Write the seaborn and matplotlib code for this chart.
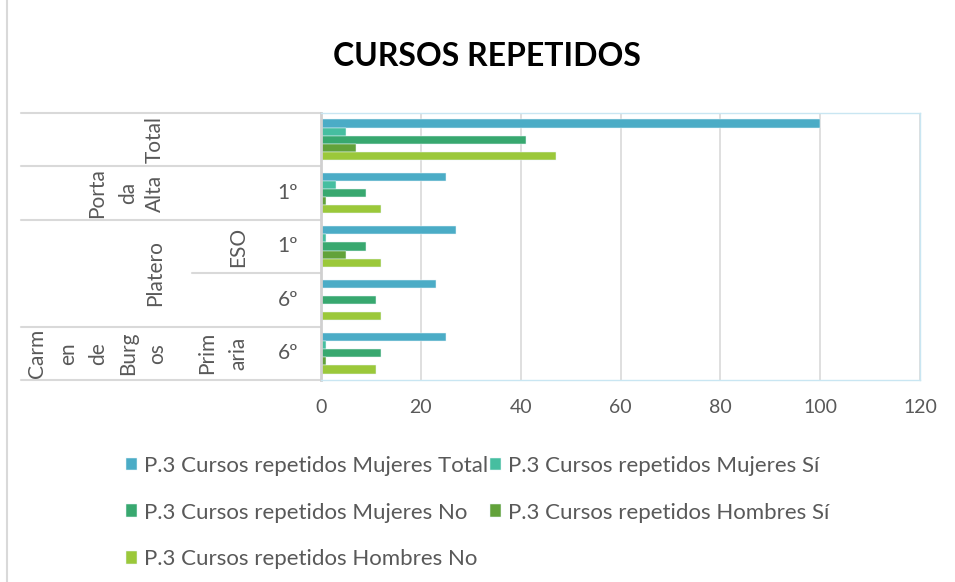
import pandas as pd
import matplotlib.pyplot as plt
import matplotlib.transforms as mtransforms
from matplotlib.lines import Line2D
import seaborn as sns

sns.set_style("white")
plt.rcParams['font.family'] = ['Lato', 'DejaVu Sans']

# Data (rows top to bottom)
categorias = ["Total", "Porta da Alta 1º", "Platero ESO 1º", "Platero 6º", "Carmen de Burgos 6º"]
series = ["P.3 Cursos repetidos Mujeres Total", "P.3 Cursos repetidos Mujeres Sí",
          "P.3 Cursos repetidos Mujeres No", "P.3 Cursos repetidos Hombres Sí",
          "P.3 Cursos repetidos Hombres No"]
mujeres_total = [100, 25, 27, 23, 25]
mujeres_si = [5, 3, 1, 0, 1]
mujeres_no = [41, 9, 9, 11, 12]
hombres_si = [7, 1, 5, 0, 1]
hombres_no = [47, 12, 12, 12, 11]
colores = ["#4BACC6", "#46BEA0", "#38A86F", "#62A23A", "#9BC83A"]

valores = [mujeres_total, mujeres_si, mujeres_no, hombres_si, hombres_no]
rows = []
for s, vals in zip(series, valores):
    for c, v in zip(categorias, vals):
        rows.append({"categoria": c, "serie": s, "valor": v})
df = pd.DataFrame(rows)

W, H = 955, 582
fig = plt.figure(figsize=(W / 100, H / 100), dpi=100)
ax = fig.add_axes([321 / W, 1 - 380 / H, (920 - 321) / W, (380 - 113) / H])

sns.barplot(data=df, x="valor", y="categoria", hue="serie", order=categorias,
            hue_order=series, palette=colores, orient="h", width=0.76,
            saturation=1, linewidth=0.35, edgecolor="#E8F4F8", ax=ax, legend=True)

ax.set_xlim(0, 120)
ax.set_ylim(4.5, -0.5)
ax.set_xticks(range(0, 121, 20))
ax.set_yticks([])
ax.set_xlabel("")
ax.set_ylabel("")
ax.grid(axis="x", color="#D9D9D9", linewidth=1.2)
ax.set_axisbelow(True)
ax.tick_params(axis="x", length=0, pad=14, labelsize=14, labelcolor="#595959")
for side in ["top", "right", "bottom"]:
    ax.spines[side].set_color("#C9E6F2")
    ax.spines[side].set_linewidth(1)
ax.spines["left"].set_color("#D0D0D0")
ax.spines["left"].set_linewidth(2)

# hierarchical category labels on the left
trans = mtransforms.blended_transform_factory(ax.transAxes, ax.transData)

def fx(px):
    return (px - 321) / 599

for y in [-0.5, 0.5, 1.5, 3.5, 4.5]:
    ax.plot([fx(21), 0], [y, y], transform=trans, color="#D9D9D9", lw=1.5, clip_on=False)
ax.plot([fx(192), 0], [2.5, 2.5], transform=trans, color="#D9D9D9", lw=1.5, clip_on=False)

etiquetas = [
    ("Total", 155, 0, 90), ("Porta", 97, 1, 90), ("da", 128, 1, 90), ("Alta", 155, 1, 90),
    ("Platero", 155, 2.5, 90), ("ESO", 238, 2, 90),
    ("1º", 288, 1, 0), ("1º", 288, 2, 0), ("6º", 288, 3, 0), ("6º", 288, 4, 0),
    ("Carm", 37, 4, 90), ("en", 68, 4, 90), ("de", 98, 4, 90), ("Burg", 128, 4, 90), ("os", 157, 4, 90),
    ("Prim", 207, 4, 90), ("aria", 238, 4, 90),
]
for txt, px, row, rot in etiquetas:
    ax.text(fx(px), row, txt, transform=trans, rotation=rot, ha="center", va="center",
            fontsize=15, color="#595959")

# legend, row-major order like the original
handles, labels = ax.get_legend_handles_labels()
ax.get_legend().remove()
orden = [0, 2, 4, 1, 3]
fig.legend([handles[i] for i in orden], [labels[i] for i in orden], ncol=2,
           loc="upper left", bbox_to_anchor=(106 / W, 1 - 436 / H), frameon=False,
           fontsize=16, labelcolor="#595959", handlelength=0.5, handleheight=0.5,
           handletextpad=0.3, columnspacing=0.1, labelspacing=1.2)

fig.text(487 / W, 1 - 57 / H, "CURSOS REPETIDOS", ha="center", va="center",
         fontsize=23, fontweight="bold", color="#000000")

fig.add_artist(Line2D([7 / W, 7 / W], [0, 1], color="#D9D9D9", lw=1.5))

fig.savefig("out.png", dpi=100)
